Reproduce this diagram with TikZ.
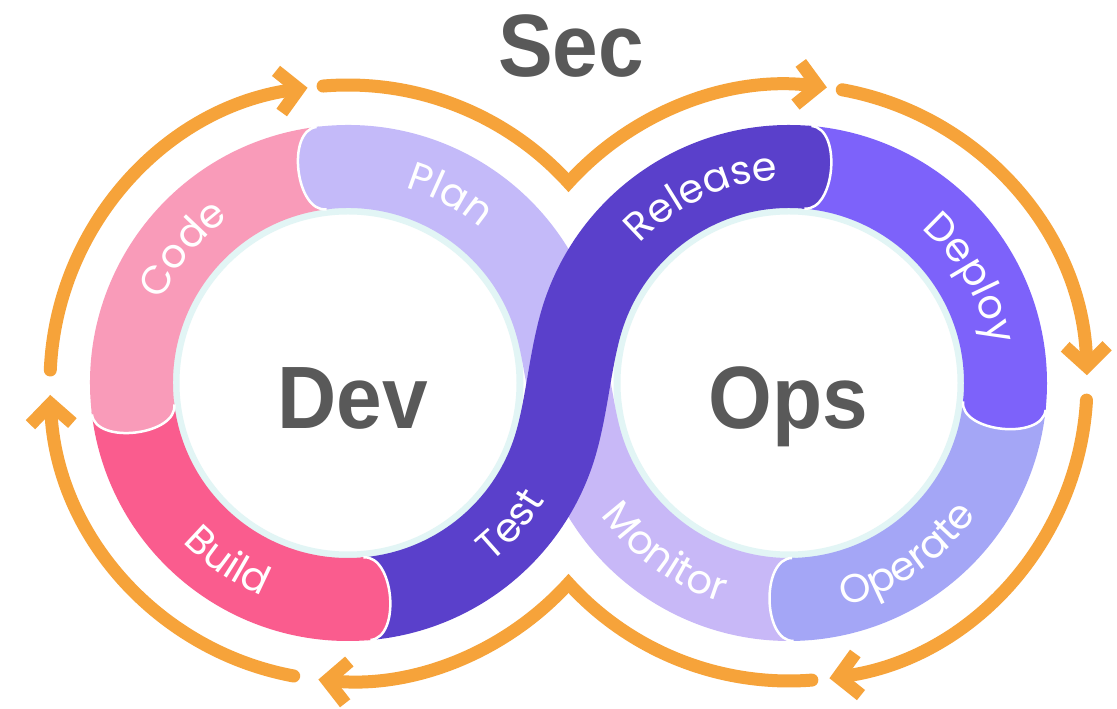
\documentclass[tikz,border=0pt]{standalone}
\usepackage{fontspec}
\setmainfont{Liberation Sans}
\newfontfamily\lblfont{Poppins}
\usetikzlibrary{calc,arrows.meta,decorations.text}

\definecolor{cPlan}{RGB}{196,186,249}
\definecolor{cCode}{RGB}{249,155,185}
\definecolor{cBuild}{RGB}{250,92,142}
\definecolor{cTest}{RGB}{90,64,203}
\definecolor{cDeploy}{RGB}{125,98,250}
\definecolor{cOperate}{RGB}{164,166,246}
\definecolor{cMonitor}{RGB}{200,184,247}
\definecolor{cOrange}{RGB}{246,163,58}
\definecolor{cText}{RGB}{89,89,89}
\definecolor{cRim}{RGB}{226,245,245}

\newcommand\ringmid{216.5}
\newcommand\ringout{258}
\newcommand\ringin{175}
\newcommand\orbit{298}
\newcommand\lblsize{\lblfont\fontsize{40pt}{40pt}\selectfont}

% cap bulging from the end of a band: #1 centre, #2 angle, #3 bulge direction, #4 colour
\newcommand\bandcap[4]{%
  \fill[#4] ($(#1)+(#2:\ringout)$) .. controls ($(#1)+(#2:\ringout)+(#3:31)$) and ($(#1)+(#2:\ringin)+(#3:31)$) .. ($(#1)+(#2:\ringin)$)
     -- ($(#1)+(#2:\ringin)+(#3:-3)$) -- ($(#1)+(#2:\ringout)+(#3:-3)$) -- cycle;
  \draw[white,line width=2.5pt] ($(#1)+(#2:\ringout)$) .. controls ($(#1)+(#2:\ringout)+(#3:31)$) and ($(#1)+(#2:\ringin)+(#3:31)$) .. ($(#1)+(#2:\ringin)$);
}
% curved label: #1 centre, #2 start angle, #3 end angle, #4 radius, #5 text
\newcommand\ringlabel[5]{%
  \path[decorate,decoration={text along path,text={|\lblsize|#5},text align=center,text color=white}]
    ($(#1)+(#2:#4)$) arc[start angle=#2,end angle=#3,radius=#4];
}

\begin{document}
\begin{tikzpicture}[x=1pt,y=1pt,
  band/.style={line width=83pt},
  orangearc/.style={draw=cOrange,line width=13pt,line cap=round,-{Straight Barb[length=20pt,width=42pt]}},
  bigword/.style={text=cText,font=\fontsize{82pt}{82pt}\selectfont\bfseries,anchor=base,inner sep=0pt}]
\useasboundingbox (0,0) rectangle (1117,709);
\fill[white] (0,0) rectangle (1117,709);

\coordinate (L) at (348,326);
\coordinate (R) at (789,326);
\coordinate (X) at (568.5,326);

% orange arrows
\draw[orangearc] ($(L)+(177.5:\orbit)$) arc[start angle=177.5,end angle=97.8,radius=\orbit];
\draw[orangearc] ($(L)+(94.8:\orbit)$) arc[start angle=94.8,end angle=42.27,radius=\orbit]
                 arc[start angle=137.73,end angle=82.7,radius=\orbit];
\draw[orangearc] ($(R)+(79.7:\orbit)$) arc[start angle=79.7,end angle=1.5,radius=\orbit];
\draw[orangearc] ($(R)+(-3.3:\orbit)$) arc[start angle=-3.3,end angle=-82.2,radius=\orbit];
\draw[orangearc] ($(R)+(-85.6:\orbit)$) arc[start angle=-85.6,end angle=-137.73,radius=\orbit]
                 arc[start angle=-42.27,end angle=-95.7,radius=\orbit];
\draw[orangearc] ($(L)+(-100.5:\orbit)$) arc[start angle=-100.5,end angle=-177.7,radius=\orbit];

% inner rims
\draw[cRim,line width=7pt] (L) circle[radius=172];
\draw[cRim,line width=7pt] (R) circle[radius=172];

% lavender strand: Monitor -> Plan
\draw[band,cMonitor] ($(R)+(271:\ringmid)$) arc[start angle=271,end angle=195,radius=\ringmid]
   .. controls +(105:20) and +(281.5:20) .. (X);
\draw[band,cPlan] (X) .. controls +(101.5:20) and +(285:20) .. ($(L)+(15:\ringmid)$)
   arc[start angle=15,end angle=97,radius=\ringmid];

% Operate
\draw[band,cOperate] ($(R)+(-6:\ringmid)$) arc[start angle=-6,end angle=-89,radius=\ringmid];
\bandcap{R}{-89}{-179}{cOperate}
% Deploy
\draw[band,cDeploy] ($(R)+(85:\ringmid)$) arc[start angle=85,end angle=-6,radius=\ringmid];
\bandcap{R}{-6}{-96}{cDeploy}
% Test -> Release
\draw[band,cTest] ($(L)+(275:\ringmid)$) arc[start angle=275,end angle=345,radius=\ringmid]
   .. controls +(75:38) and +(255:38) .. ($(R)+(165:\ringmid)$)
   arc[start angle=165,end angle=85,radius=\ringmid];
\bandcap{R}{85}{-5}{cTest}
% Build
\draw[band,cBuild] ($(L)+(187:\ringmid)$) arc[start angle=187,end angle=275,radius=\ringmid];
\bandcap{L}{275}{5}{cBuild}
% Code
\draw[band,cCode] ($(L)+(97:\ringmid)$) arc[start angle=97,end angle=187,radius=\ringmid];
\bandcap{L}{187}{277}{cCode}
% Plan cap
\bandcap{L}{97}{187}{cPlan}

% labels
\ringlabel{L}{181}{101}{203.5}{Code}
\ringlabel{L}{101.5}{21.5}{203.5}{Plan}
\ringlabel{L}{196}{276}{229.5}{Build}
\ringlabel{L}{-81}{-1}{229.5}{Test}
\ringlabel{R}{155}{75}{203.5}{Release}
\ringlabel{R}{70}{-10}{203.5}{Deploy}
\ringlabel{R}{-95.6}{-15.6}{229.5}{Operate}
\ringlabel{R}{194}{274}{229.5}{Monitor}

% big words
\node[bigword] (sec) at (571,632) {\scalebox{1}[1.08]{Sec}};
\node[bigword] (dev) at (352.5,280) {\scalebox{1}[1.08]{Dev}};
\node[bigword] (ops) at (788,280) {\scalebox{1}[1.08]{Ops}};
\end{tikzpicture}
\end{document}
